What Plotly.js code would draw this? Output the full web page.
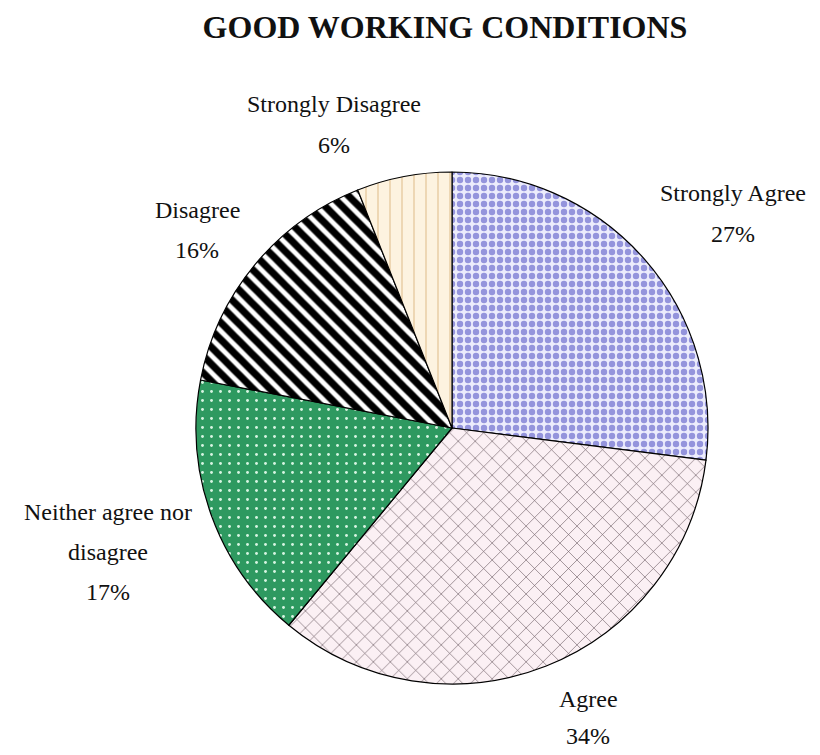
<!DOCTYPE html>
<html>
<head>
<meta charset="utf-8">
<script src="https://cdn.plot.ly/plotly-3.0.1.min.js"></script>
<style>html,body{margin:0;padding:0;background:#fff;}#chart{width:820px;height:755px;}</style>
</head>
<body>
<div id="chart"></div>
<script>
// ---- data ----
var categories = ["Strongly Agree", "Agree", "Neither agree nor<br>disagree", "Disagree", "Strongly Disagree"];
var values = [27, 34, 17, 16, 6];
var chartTitle = "GOOD WORKING CONDITIONS";

// ---- styles (not data) ----
var bgColors = ["#ececfc", "#fbf0f4", "#2e9960", "#ffffff", "#fdf3e0"];
var fgColors = ["#9494dc", "#6a5a60", "#d8f5e2", "#000000", "#dcb884"];
var shapes = [".", "x", ".", "\\", "|"];
var sizes = [8, 12, 9, 12, 12];
var solidity = [0.5, 0.1, 0.08, 0.6, 0.08];
// label anchor (pixel) positions: centre x, first line centre y, line gap
var labelPos = [[733, 193, 41], [588, 699, 37], [108, 512, 40], [197, 210, 40], [334, 104, 41]];

var W = 820, H = 755;
var cx = 452, cy = 428, r = 256;

var total = values.reduce(function(a, b) { return a + b; }, 0);
var annotations = [];
categories.forEach(function(c, i) {
  var lines = c.split("<br>");
  lines.push(Math.round(values[i] / total * 100) + "%");
  lines.forEach(function(t, j) {
    annotations.push({
      text: t, xref: "paper", yref: "paper",
      x: labelPos[i][0] / W, y: 1 - (labelPos[i][1] + j * labelPos[i][2]) / H,
      xanchor: "center", yanchor: "middle", showarrow: false,
      font: {family: "Liberation Serif, Times New Roman, serif", size: 24, color: "#111"}
    });
  });
});

var trace = {
  type: "pie",
  labels: categories,
  values: values,
  sort: false,
  direction: "clockwise",
  rotation: 0,
  textinfo: "none",
  textposition: "none",
  hoverinfo: "label+percent",
  showlegend: false,
  domain: {x: [(cx - r) / W, (cx + r) / W], y: [1 - (cy + r) / H, 1 - (cy - r) / H]},
  marker: {
    colors: bgColors,
    line: {color: "#000000", width: 1.2},
    pattern: {shape: shapes, fgcolor: fgColors, bgcolor: bgColors, size: sizes, solidity: solidity,
              fillmode: "replace", fgopacity: 1}
  }
};

var layout = {
  width: W, height: H,
  margin: {l: 0, r: 0, t: 0, b: 0},
  paper_bgcolor: "#ffffff",
  title: {
    text: "<b>" + chartTitle + "</b>",
    font: {family: "Liberation Serif, Times New Roman, serif", size: 32, color: "#111"},
    x: 445 / W, xanchor: "center", y: 1 - 27 / H, yanchor: "middle"
  },
  annotations: annotations
};

Plotly.newPlot("chart", [trace], layout, {displayModeBar: false, staticPlot: true});
</script>
</body>
</html>
